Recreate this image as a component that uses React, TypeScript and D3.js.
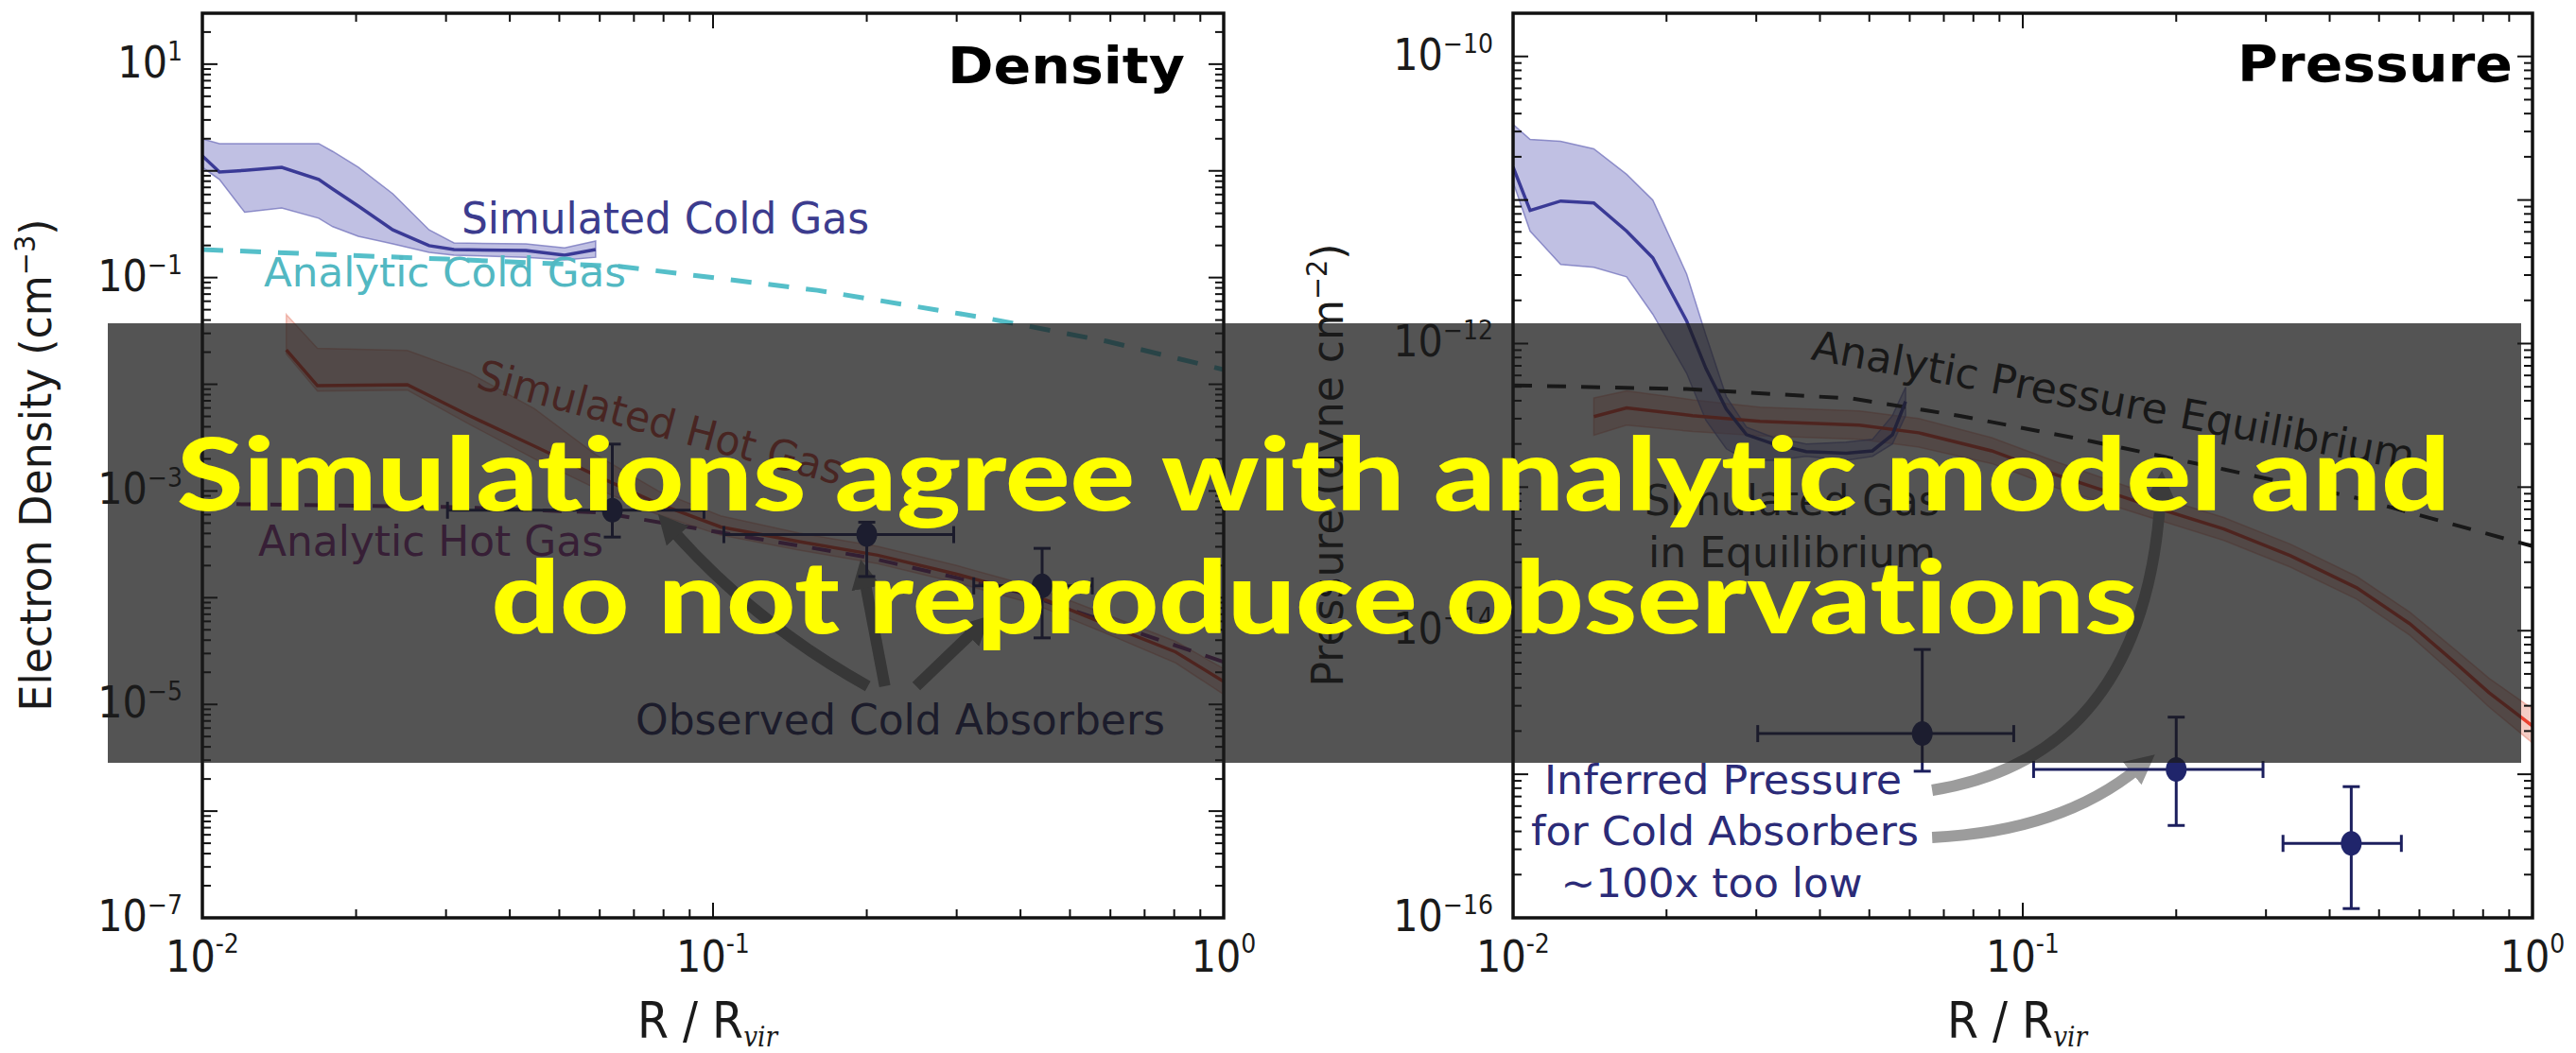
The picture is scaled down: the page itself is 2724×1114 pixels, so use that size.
import React from 'react';
import * as d3 from 'd3';

const WIDTH = 2724;
const HEIGHT = 1114;
const FONT = '"DejaVu Sans", Verdana, sans-serif';

// ---------- observed cold absorbers: radial bins shared by both panels ----------
const obsR = [0.0635, 0.2, 0.441];
const obsRLo = [0.0302, 0.105, 0.324];
const obsRHi = [0.096, 0.296, 0.553];

// ---------- Density panel (cm^-3) ----------
const coldDensR = [0.01, 0.0108, 0.0121, 0.0143, 0.0169, 0.018, 0.0202, 0.0236, 0.0278, 0.0311, 0.043, 0.0512, 0.0589];
const coldDensMid = [1.38, 0.975, 1.01, 1.08, 0.83, 0.675, 0.468, 0.28, 0.199, 0.183, 0.179, 0.162, 0.183];
const coldDensLo = [1.08, 0.83, 0.41, 0.45, 0.36, 0.3, 0.244, 0.207, 0.172, 0.162, 0.155, 0.146, 0.155];
const coldDensHi = [1.99, 1.8, 1.8, 1.8, 1.8, 1.52, 1.08, 0.61, 0.28, 0.211, 0.207, 0.19, 0.22];

const analyticColdR = [0.01, 0.03, 0.066, 0.16, 0.34, 0.59, 1.0];
const analyticColdN = [0.183, 0.149, 0.127, 0.076, 0.042, 0.0253, 0.0137];

const hotDensR = [0.0146, 0.0168, 0.0252, 0.0334, 0.0447, 0.0589, 0.0781, 0.1035, 0.1475, 0.21, 0.299, 0.426, 0.607, 0.805, 1.0];
const hotDensMid = [0.021, 0.0097, 0.0099, 0.00505, 0.00263, 0.0014, 7.6e-4, 4.6e-4, 3.35e-4, 2.5e-4, 1.67e-4, 1.05e-4, 5.3e-5, 3.1e-5, 1.64e-5];
const hotDensLo = [0.0192, 0.00865, 0.00883, 0.0042, 0.002, 0.00106, 6.0e-4, 3.86e-4, 2.79e-4, 2.09e-4, 1.39e-4, 8.7e-5, 4.35e-5, 2.45e-5, 1.24e-5];
const hotDensHi = [0.045, 0.0217, 0.0207, 0.0127, 0.0059, 0.0022, 0.001, 5.85e-4, 4.03e-4, 3.03e-4, 2.01e-4, 1.26e-4, 6.6e-5, 3.9e-5, 2.16e-5];

const analyticHotR = [0.01, 0.03, 0.06, 0.1, 0.2, 0.4, 1.0];
const analyticHotN = [7.6e-4, 7.1e-4, 6.3e-4, 4.2e-4, 2.4e-4, 1.12e-4, 2.5e-5];

const obsDens = [6.6e-4, 3.9e-4, 1.29e-4];
const obsDensLo = [3.7e-4, 1.58e-4, 4.2e-5];
const obsDensHi = [2.75e-3, 5.1e-4, 2.9e-4];

// ---------- Pressure panel (dyne cm^-2) ----------
const coldPresR = [0.01, 0.0108, 0.0124, 0.0144, 0.0167, 0.0188, 0.0219, 0.0239, 0.0262, 0.0287, 0.0324, 0.0376, 0.045, 0.0507, 0.0555, 0.0589];
const coldPresMid = [1.7e-11, 8.47e-12, 9.84e-12, 9.55e-12, 6.07e-12, 3.96e-12, 1.44e-12, 6.71e-13, 3.5e-13, 2.32e-13, 2.0e-13, 1.77e-13, 1.72e-13, 1.79e-13, 2.32e-13, 3.95e-13];
const coldPresLo = [1.33e-11, 6.07e-12, 3.56e-12, 3.4e-12, 2.92e-12, 1.6e-12, 6.22e-13, 2.92e-13, 1.85e-13, 1.54e-13, 1.54e-13, 1.64e-13, 1.54e-13, 1.64e-13, 2.0e-13, 3.15e-13];
const coldPresHi = [3.37e-11, 2.64e-11, 2.56e-11, 2.27e-11, 1.51e-11, 1.0e-11, 3.06e-12, 1.14e-12, 4.27e-13, 2.62e-13, 2.22e-13, 2.0e-13, 2.06e-13, 2.15e-13, 3.15e-13, 4.97e-13];

const hotPresR = [0.0144, 0.0167, 0.0225, 0.0305, 0.0478, 0.0625, 0.0869, 0.117, 0.184, 0.248, 0.335, 0.452, 0.574, 0.708, 0.822, 1.0];
const hotPresMid = [3.1e-13, 3.56e-13, 3.15e-13, 2.87e-13, 2.7e-13, 2.39e-13, 1.79e-13, 1.21e-13, 7.11e-14, 5.11e-14, 3.33e-14, 1.99e-14, 1.12e-14, 5.92e-15, 3.7e-15, 2.17e-15];
const hotPresLo = [2.3e-13, 2.7e-13, 2.44e-13, 2.28e-13, 2.15e-13, 1.9e-13, 1.46e-13, 9.84e-14, 5.92e-14, 4.25e-14, 2.77e-14, 1.66e-14, 9.31e-15, 4.81e-15, 2.94e-15, 1.65e-15];
const hotPresHi = [4.18e-13, 4.69e-13, 4.06e-13, 3.61e-13, 3.4e-13, 3.01e-13, 2.21e-13, 1.49e-13, 8.55e-14, 6.14e-14, 4.01e-14, 2.39e-14, 1.35e-14, 7.28e-15, 4.66e-15, 2.86e-15];

const eqPresR = [0.01, 0.0219, 0.0464, 0.0748, 0.136, 0.248, 0.452, 1.0];
const eqPres = [5.12e-13, 4.82e-13, 4.14e-13, 3.15e-13, 2.09e-13, 1.33e-13, 8.41e-14, 3.88e-14];

const obsPres = [1.92e-15, 1.08e-15, 3.3e-16];
const obsPresLo = [1.05e-15, 4.4e-16, 1.16e-16];
const obsPresHi = [7.4e-15, 2.5e-15, 8.2e-16];

// tick-label exponents
const radiusExps = [-2, -1, 0];
const densityExps = [1, -1, -3, -5, -7];
const pressureExps = [-10, -12, -14, -16];

type Scale = d3.ScaleLogarithmic<number, number>;

function logTicks(lo: number, hi: number) {
  const out: { v: number; major: boolean }[] = [];
  for (let d = Math.floor(Math.log10(lo)); d <= Math.ceil(Math.log10(hi)); d++) {
    for (let k = 1; k <= 9; k++) {
      const v = k * Math.pow(10, d);
      if (v >= lo * 0.9999 && v <= hi * 1.0001) out.push({ v, major: k === 1 });
    }
  }
  return out;
}

function bandPath(x: Scale, y: Scale, r: number[], lo: number[], hi: number[]) {
  return d3
    .area<number>()
    .x((i) => x(r[i]))
    .y0((i) => y(lo[i]))
    .y1((i) => y(hi[i]))(r.map((_, i) => i)) || '';
}

function linePath(x: Scale, y: Scale, r: number[], v: number[]) {
  return d3
    .line<number>()
    .x((i) => x(r[i]))
    .y((i) => y(v[i]))(r.map((_, i) => i)) || '';
}

function Frame({ x, y }: { x: Scale; y: Scale }) {
  const [x0, x1] = x.range();
  const [yb, yt] = y.range();
  const xd = x.domain();
  const yd = y.domain();
  const xt = logTicks(xd[0], xd[1]);
  const ytk = logTicks(yd[0], yd[1]);
  return (
    <g stroke="#111" fill="none">
      {xt.map((t, i) => {
        const px = x(t.v);
        const L = t.major ? 16 : 9;
        return (
          <g key={'x' + i} strokeWidth={2}>
            <line x1={px} x2={px} y1={yb} y2={yb - L} />
            <line x1={px} x2={px} y1={yt} y2={yt + L} />
          </g>
        );
      })}
      {ytk.map((t, i) => {
        const py = y(t.v);
        const L = t.major ? 16 : 9;
        return (
          <g key={'y' + i} strokeWidth={2}>
            <line x1={x0} x2={x0 + L} y1={py} y2={py} />
            <line x1={x1} x2={x1 - L} y1={py} y2={py} />
          </g>
        );
      })}
      <rect x={x0} y={yt} width={x1 - x0} height={yb - yt} strokeWidth={3.5} />
    </g>
  );
}

function TickLabels({ x, y, yExps, minusSign }: { x: Scale; y: Scale; yExps: number[]; minusSign: string }) {
  const [x0] = x.range();
  const [yb] = y.range();
  return (
    <g fontFamily={FONT} fill="#1a1a1a">
      {radiusExps.map((e) => (
        <text key={'rx' + e} transform={`translate(${x(Math.pow(10, e))},${yb + 57}) scale(0.9,1)`} textAnchor="middle" fontSize={46}>
          10
          <tspan dy={-20} fontSize={28}>{e < 0 ? '-' + -e : String(e)}</tspan>
        </text>
      ))}
      {yExps.map((e) => (
        <text key={'ry' + e} transform={`translate(${x0 - 21},${y(Math.pow(10, e)) + 14}) scale(0.9,1)`} textAnchor="end" fontSize={46}>
          10
          <tspan dy={-18} fontSize={28}>{e < 0 ? minusSign + -e : String(e)}</tspan>
        </text>
      ))}
    </g>
  );
}

function ErrorBars({ x, y, v, lo, hi }: { x: Scale; y: Scale; v: number[]; lo: number[]; hi: number[] }) {
  const col = '#1c1f5e';
  return (
    <g stroke={col} strokeWidth={3} fill="none">
      {obsR.map((r, i) => {
        const cx = x(r);
        const cy = y(v[i]);
        return (
          <g key={i}>
            <line x1={x(obsRLo[i])} x2={x(obsRHi[i])} y1={cy} y2={cy} />
            <line x1={x(obsRLo[i])} x2={x(obsRLo[i])} y1={cy - 9} y2={cy + 9} />
            <line x1={x(obsRHi[i])} x2={x(obsRHi[i])} y1={cy - 9} y2={cy + 9} />
            <line x1={cx} x2={cx} y1={y(lo[i])} y2={y(hi[i])} />
            <line x1={cx - 9} x2={cx + 9} y1={y(lo[i])} y2={y(lo[i])} />
            <line x1={cx - 9} x2={cx + 9} y1={y(hi[i])} y2={y(hi[i])} />
            <ellipse cx={cx} cy={cy} rx={11} ry={13} fill="#20256b" stroke="none" />
          </g>
        );
      })}
    </g>
  );
}

type ArrowSpec = { from: [number, number]; ctrl?: [number, number]; to: [number, number] };

function Arrows({ x, y, arrows, color, marker }: { x: Scale; y: Scale; arrows: ArrowSpec[]; color: string; marker: string }) {
  return (
    <g fill="none" stroke={color} strokeWidth={12} strokeLinecap="butt">
      {arrows.map((a, i) => {
        const p = d3.path();
        p.moveTo(x(a.from[0]), y(a.from[1]));
        if (a.ctrl) p.quadraticCurveTo(x(a.ctrl[0]), y(a.ctrl[1]), x(a.to[0]), y(a.to[1]));
        else p.lineTo(x(a.to[0]), y(a.to[1]));
        return <path key={i} d={p.toString()} markerEnd={`url(#${marker})`} />;
      })}
    </g>
  );
}

export default function App() {
  const xD = d3.scaleLog().domain([0.01, 1]).range([214, 1294]);
  const yD = d3.scaleLog().domain([1e-7, 30]).range([971, 14]);
  const xP = d3.scaleLog().domain([0.01, 1]).range([1600, 2678]);
  const yP = d3.scaleLog().domain([1e-16, 2e-10]).range([971, 14]);

  const densArrows: ArrowSpec[] = [
    { from: [0.201, 1.48e-5], ctrl: [0.121, 5.7e-5], to: [0.083, 4.37e-4] },
    { from: [0.217, 1.48e-5], to: [0.198, 1.48e-4] },
    { from: [0.25, 1.48e-5], to: [0.326, 5.0e-5] },
  ];
  const presArrows: ArrowSpec[] = [
    { from: [0.0664, 7.74e-16], ctrl: [0.175, 1.34e-15], to: [0.1866, 9.35e-14] },
    { from: [0.0664, 3.63e-16], ctrl: [0.119, 3.98e-16], to: [0.169, 1.11e-15] },
  ];

  const clip = (x: Scale, y: Scale) => {
    const [x0, x1] = x.range();
    const [yb, yt] = y.range();
    return { x: x0, y: yt, width: x1 - x0, height: yb - yt };
  };

  return (
    <svg width={WIDTH} height={HEIGHT} viewBox={`0 0 ${WIDTH} ${HEIGHT}`} style={{ position: 'absolute', left: 0, top: 0, background: '#fff' }}>
      <defs>
        <clipPath id="clipD"><rect {...clip(xD, yD)} /></clipPath>
        <clipPath id="clipP"><rect {...clip(xP, yP)} /></clipPath>
        <marker id="headGrayD" viewBox="0 0 10 10" refX="3" refY="5" markerWidth="2.6" markerHeight="2.6" orient="auto" markerUnits="strokeWidth">
          <path d="M0,0 L10,5 L0,10 z" fill="#8a8a8a" />
        </marker>
        <marker id="headGrayP" viewBox="0 0 10 10" refX="3" refY="5" markerWidth="2.6" markerHeight="2.6" orient="auto" markerUnits="strokeWidth">
          <path d="M0,0 L10,5 L0,10 z" fill="#9c9c9c" />
        </marker>
      </defs>
      <rect x={0} y={0} width={WIDTH} height={HEIGHT} fill="#fff" />

      {/* ================= Density panel ================= */}
      <g clipPath="url(#clipD)">
        <path d={bandPath(xD, yD, hotDensR, hotDensLo, hotDensHi)} fill="#e5826f" fillOpacity={0.35} stroke="#e5826f" strokeOpacity={0.5} strokeWidth={1.5} />
        <path d={bandPath(xD, yD, coldDensR, coldDensLo, coldDensHi)} fill="#7474c2" fillOpacity={0.45} stroke="#6a6ab8" strokeOpacity={0.7} strokeWidth={1.5} />
        <path d={linePath(xD, yD, analyticColdR, analyticColdN)} fill="none" stroke="#55bfc9" strokeWidth={5} strokeDasharray="22 18" />
        <path d={linePath(xD, yD, analyticHotR, analyticHotN)} fill="none" stroke="#7b2d7b" strokeWidth={4} strokeDasharray="20 16" />
        <path d={linePath(xD, yD, hotDensR, hotDensMid)} fill="none" stroke="#e8402f" strokeWidth={3.5} />
        <path d={linePath(xD, yD, coldDensR, coldDensMid)} fill="none" stroke="#3a3a96" strokeWidth={3.5} />
        <Arrows x={xD} y={yD} arrows={densArrows} color="#8a8a8a" marker="headGrayD" />
        <ErrorBars x={xD} y={yD} v={obsDens} lo={obsDensLo} hi={obsDensHi} />
      </g>
      <Frame x={xD} y={yD} />
      <TickLabels x={xD} y={yD} yExps={densityExps} minusSign={'\u2212'} />

      <g fontFamily={FONT}>
        <text x={1253} y={88} textAnchor="end" fontSize={54} fontWeight="bold" fill="#000" textLength={251} lengthAdjust="spacingAndGlyphs">Density</text>
        <text x={488} y={247} fontSize={46} fill="#3c3c8e" textLength={431} lengthAdjust="spacingAndGlyphs">Simulated Cold Gas</text>
        <text x={279} y={303} fontSize={42} fill="#52b8c2" textLength={383} lengthAdjust="spacingAndGlyphs">Analytic Cold Gas</text>
        <text transform="translate(502,410) rotate(15)" fontSize={44} fill="#d0453a" textLength={398} lengthAdjust="spacingAndGlyphs">Simulated Hot Gas</text>
        <text x={273} y={588} fontSize={44} fill="#8a2f86" textLength={365} lengthAdjust="spacingAndGlyphs">Analytic Hot Gas</text>
        <text x={672} y={777} fontSize={45} fill="#23235e" textLength={560} lengthAdjust="spacingAndGlyphs">Observed Cold Absorbers</text>
        <text transform="translate(54,492) rotate(-90)" textAnchor="middle" fontSize={46} fill="#1a1a1a" textLength={521} lengthAdjust="spacingAndGlyphs">
          Electron Density (cm<tspan dy={-17} fontSize={30}>{'\u22123'}</tspan><tspan dy={17}>)</tspan>
        </text>
        <text x={xD(0.1) - 6} y={1098} textAnchor="middle" fontSize={54} fill="#1a1a1a" transform={`translate(${(xD(0.1) - 6) * 0.12},0) scale(0.88,1)`}>
          R / R<tspan dy={9} fontSize={30} fontStyle="italic" fontFamily='"DejaVu Serif", serif'>vir</tspan>
        </text>
      </g>

      {/* ================= Pressure panel ================= */}
      <g clipPath="url(#clipP)">
        <path d={bandPath(xP, yP, hotPresR, hotPresLo, hotPresHi)} fill="#e5826f" fillOpacity={0.4} stroke="#e5826f" strokeOpacity={0.5} strokeWidth={1.5} />
        <path d={bandPath(xP, yP, coldPresR, coldPresLo, coldPresHi)} fill="#7474c2" fillOpacity={0.45} stroke="#6a6ab8" strokeOpacity={0.7} strokeWidth={1.5} />
        <path d={linePath(xP, yP, eqPresR, eqPres)} fill="none" stroke="#111" strokeWidth={4} strokeDasharray="20 16" />
        <path d={linePath(xP, yP, hotPresR, hotPresMid)} fill="none" stroke="#e8402f" strokeWidth={3.5} />
        <path d={linePath(xP, yP, coldPresR, coldPresMid)} fill="none" stroke="#3a3a96" strokeWidth={3.5} />
        <Arrows x={xP} y={yP} arrows={presArrows} color="#9c9c9c" marker="headGrayP" />
        <ErrorBars x={xP} y={yP} v={obsPres} lo={obsPresLo} hi={obsPresHi} />
      </g>
      <Frame x={xP} y={yP} />
      <TickLabels x={xP} y={yP} yExps={pressureExps} minusSign={'\u2212'} />

      <g fontFamily={FONT}>
        <text x={2657} y={86} textAnchor="end" fontSize={54} fontWeight="bold" fill="#000" textLength={291} lengthAdjust="spacingAndGlyphs">Pressure</text>
        <text transform="translate(1914,380) rotate(10.5)" fontSize={44} fill="#111" textLength={647} lengthAdjust="spacingAndGlyphs">Analytic Pressure Equilibrium</text>
        <text x={1895} y={545} textAnchor="middle" fontSize={44} fill="#202020" textLength={312} lengthAdjust="spacingAndGlyphs">Simulated Gas</text>
        <text x={1895} y={600} textAnchor="middle" fontSize={44} fill="#202020" textLength={304} lengthAdjust="spacingAndGlyphs">in Equilibrium</text>
        <text x={1822} y={840} textAnchor="middle" fontSize={42} fill="#2b2b78" textLength={378} lengthAdjust="spacingAndGlyphs">Inferred Pressure</text>
        <text x={1824} y={894} textAnchor="middle" fontSize={42} fill="#2b2b78" textLength={410} lengthAdjust="spacingAndGlyphs">for Cold Absorbers</text>
        <text x={1810} y={949} textAnchor="middle" fontSize={42} fill="#2b2b78" textLength={319} lengthAdjust="spacingAndGlyphs">~100x too low</text>
        <text transform="translate(1420,492) rotate(-90)" textAnchor="middle" fontSize={46} fill="#1a1a1a" textLength={469} lengthAdjust="spacingAndGlyphs">
          Pressure (dyne cm<tspan dy={-17} fontSize={30}>{'\u22122'}</tspan><tspan dy={17}>)</tspan>
        </text>
        <text x={xP(0.1) - 6} y={1098} textAnchor="middle" fontSize={54} fill="#1a1a1a" transform={`translate(${(xP(0.1) - 6) * 0.12},0) scale(0.88,1)`}>
          R / R<tspan dy={9} fontSize={30} fontStyle="italic" fontFamily='"DejaVu Serif", serif'>vir</tspan>
        </text>
      </g>

      {/* ================= headline banner ================= */}
      <rect x={114} y={342} width={2552} height={465} fill="#1b1b1b" fillOpacity={0.75} />
      <g fontFamily='Lato, "Open Sans", sans-serif' fontWeight={900} fill="#ffff00" textAnchor="middle" fontSize={106} style={{ fontVariantLigatures: 'none' }}>
        <text x={1389} y={540} textLength={2404} lengthAdjust="spacingAndGlyphs">Simulations agree with analytic model and</text>
        <text x={1390} y={670} textLength={1741} lengthAdjust="spacingAndGlyphs">do not reproduce observations</text>
      </g>
    </svg>
  );
}
